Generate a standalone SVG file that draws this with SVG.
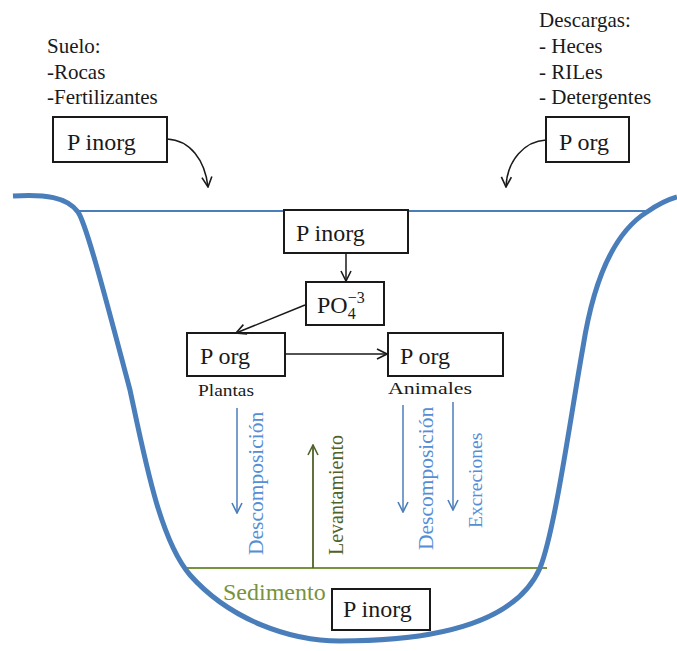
<svg xmlns="http://www.w3.org/2000/svg" width="677" height="651" viewBox="0 0 677 651">
<style>
text{font-family:'Liberation Serif','Times New Roman',serif;fill:#1a1a1a}
.box{fill:#fff;stroke:#1a1a1a;stroke-width:2}
.con{fill:none;stroke:#1a1a1a;stroke-width:1.5}
.blue{fill:none;stroke:#4a7ebb;stroke-width:1.5}
.btxt{fill:#558ed5;font-size:21.5px}
</style>
<defs>
<marker id="ah" viewBox="0 0 12 12" refX="11" refY="6" markerWidth="12" markerHeight="12" markerUnits="userSpaceOnUse" orient="auto">
<path d="M1,1 L11,6 L1,11" fill="none" stroke="#1a1a1a" stroke-width="1.6"/>
</marker>
<marker id="ahb" viewBox="0 0 12 12" refX="11" refY="6" markerWidth="12" markerHeight="12" markerUnits="userSpaceOnUse" orient="auto">
<path d="M1,1 L11,6 L1,11" fill="none" stroke="#4a7ebb" stroke-width="1.6"/>
</marker>
<marker id="ahg" viewBox="0 0 12 12" refX="11" refY="6" markerWidth="12" markerHeight="12" markerUnits="userSpaceOnUse" orient="auto">
<path d="M1,1 L11,6 L1,11" fill="none" stroke="#4f6228" stroke-width="1.6"/>
</marker>
</defs>
<rect width="677" height="651" fill="#fff"/>
<g id="basin">
<line x1="77" y1="211" x2="648" y2="211" stroke="#4a7ebb" stroke-width="2"/>
<line x1="187" y1="568" x2="547" y2="568" stroke="#77933c" stroke-width="2"/>
<path d="M13,196 C45,194 67,197 78,212 C87,225 110,315 130,390 C145,460 160,540 190,575 C230,620 290,641 340,641 C430,641 515,625 540,568 C555,530 570,420 583,347 C592,290 610,235 647,212 C660,203 670,199 677,197" fill="none" stroke="#4a7ebb" stroke-width="5"/>
</g>
<g id="suelo">
<text x="47" y="53" font-size="21">Suelo:</text>
<text x="47" y="79" font-size="21">-Rocas</text>
<text x="47" y="104" font-size="21">-Fertilizantes</text>
</g>
<g id="n-suelo-pinorg">
<rect class="box" x="53" y="117" width="114" height="45"/>
<text x="67" y="150" font-size="24">P inorg</text>
</g>
<g id="descargas">
<text x="539" y="27" font-size="21">Descargas:</text>
<text x="539" y="53" font-size="21">- Heces</text>
<text x="539" y="79" font-size="21">- RILes</text>
<text x="539" y="104" font-size="21">- Detergentes</text>
</g>
<g id="n-desc-porg">
<rect class="box" x="546" y="117" width="83" height="45"/>
<text x="559" y="150" font-size="24">P org</text>
</g>
<g id="n-agua-pinorg">
<rect class="box" x="284" y="210" width="124" height="43"/>
<text x="296" y="241" font-size="24">P inorg</text>
</g>
<g id="n-po4">
<rect class="box" x="306" y="282" width="78" height="43"/>
<text x="317" y="313" font-size="24">PO<tspan font-size="16" dy="6">4</tspan><tspan font-size="16" dx="-8" dy="-16">−3</tspan></text>
</g>
<g id="n-plantas">
<rect class="box" x="187" y="333" width="98" height="43"/>
<text x="200" y="364" font-size="24">P org</text>
<text x="226" y="396" font-size="17" text-anchor="middle" textLength="56" lengthAdjust="spacingAndGlyphs">Plantas</text>
</g>
<g id="n-animales">
<rect class="box" x="388" y="333" width="115" height="43"/>
<text x="400" y="364" font-size="24">P org</text>
<text x="430" y="394" font-size="17" text-anchor="middle" textLength="84" lengthAdjust="spacingAndGlyphs">Animales</text>
</g>
<g id="n-sedimento">
<text x="223" y="600" font-size="24" style="fill:#77933c">Sedimento</text>
<rect class="box" x="332" y="589" width="98" height="41"/>
<text x="343" y="617" font-size="24">P inorg</text>
</g>
<g id="connectors">
<path class="con" d="M167,139 C190,140 205,160 208,187" marker-end="url(#ah)"/>
<path class="con" d="M546,140 C525,141 507,160 506,187" marker-end="url(#ah)"/>
<line class="con" x1="346" y1="253" x2="346" y2="281" marker-end="url(#ah)"/>
<line class="con" x1="305" y1="305" x2="236" y2="333" marker-end="url(#ah)"/>
<line class="con" x1="285" y1="354" x2="387" y2="354" marker-end="url(#ah)"/>
<line class="blue" x1="237" y1="408" x2="237" y2="513" marker-end="url(#ahb)"/>
<line class="blue" x1="403" y1="405" x2="403" y2="512" marker-end="url(#ahb)"/>
<line class="blue" x1="453" y1="402" x2="453" y2="510" marker-end="url(#ahb)"/>
<line x1="313" y1="568" x2="313" y2="445" stroke="#4f6228" stroke-width="1.8" marker-end="url(#ahg)"/>
<text class="btxt" transform="translate(263,555) rotate(-90)">Descomposición</text>
<text class="btxt" transform="translate(433,550) rotate(-90)">Descomposición</text>
<text transform="translate(482,528) rotate(-90)" font-size="19.5" style="fill:#558ed5">Excreciones</text>
<text transform="translate(343,555) rotate(-90)" font-size="20" style="fill:#4f6228">Levantamiento</text>
</g>
</svg>
